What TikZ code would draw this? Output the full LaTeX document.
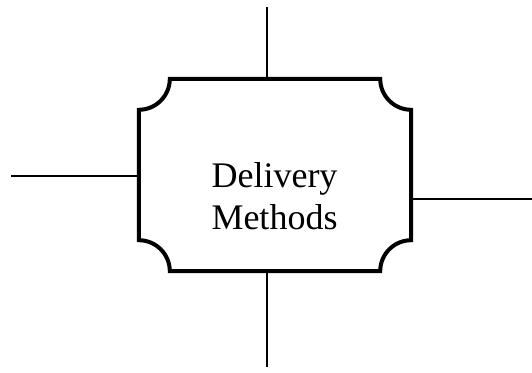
\documentclass[tikz,border=0pt]{standalone}
\usepackage{fontspec}
\setmainfont{Liberation Serif}
\begin{document}
\begin{tikzpicture}[x=1pt,y=1pt,
  boxline/.style={line width=4pt, draw=black},
  conn/.style={line width=1.5pt, draw=black},
  lbl/.style={font=\fontsize{36}{42}\selectfont, inner sep=0pt, anchor=base}]
\useasboundingbox (0,0) rectangle (532,372);
\node[minimum width=272pt, minimum height=192pt, inner sep=0pt, draw=none] (box) at (275,197) {};
\draw[boxline] ([xshift=31pt]box.north west) -- ([xshift=-31pt]box.north east)
  arc[start angle=180,end angle=270,radius=31pt] -- ([yshift=31pt]box.south east)
  arc[start angle=90,end angle=180,radius=31pt] -- ([xshift=31pt]box.south west)
  arc[start angle=0,end angle=90,radius=31pt] -- ([yshift=-31pt]box.north west)
  arc[start angle=270,end angle=360,radius=31pt] -- cycle;
\coordinate (t) at (267,365);
\coordinate (b) at (267,5);
\coordinate (l) at (11,196);
\coordinate (r) at (532,173);
\draw[conn] (t) -- (t |- box.north);
\draw[conn] (b) -- (b |- box.south);
\draw[conn] (l) -- (l -| box.west);
\draw[conn] (r) -- (r -| box.east);
\node[lbl] (t1) at (274.5,184) {Delivery};
\node[lbl] (t2) at (274.5,142) {Methods};
\end{tikzpicture}
\end{document}
